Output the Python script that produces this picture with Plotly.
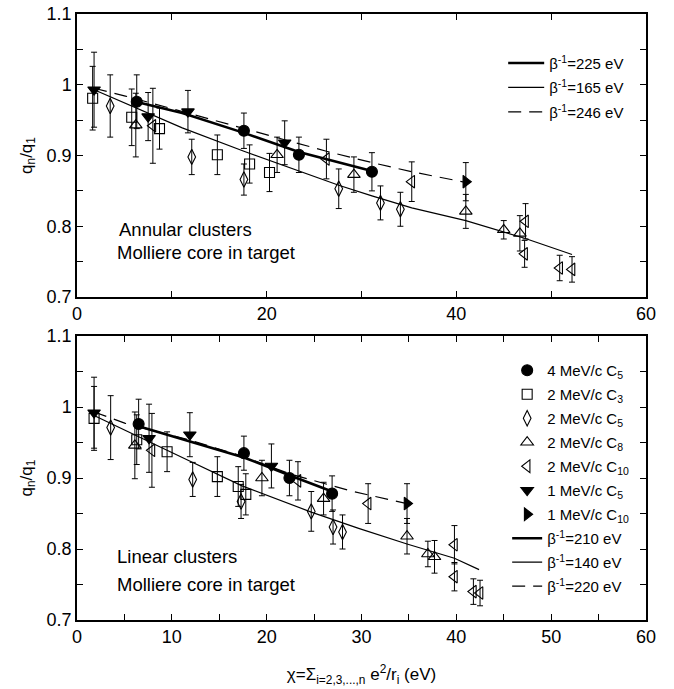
import plotly.graph_objects as go

# ---------------- data: top panel (annular clusters) ----------------
t_c5_4_x = [6.3, 17.6, 23.4, 31.1]
t_c5_4_y = [0.976, 0.935, 0.901, 0.877]
t_c5_4_e = [0.038, 0.025, 0.025, 0.027]

t_c3_2_x = [1.65, 5.77, 8.7, 14.8, 18.2, 20.3]
t_c3_2_y = [0.981, 0.954, 0.938, 0.901, 0.888, 0.876]
t_c3_2_e = [0.045, 0.040, 0.029, 0.028, 0.027, 0.027]

t_c5_2_x = [3.5, 12.1, 17.6, 27.6, 32.0, 34.1]
t_c5_2_y = [0.970, 0.898, 0.866, 0.853, 0.833, 0.824]
t_c5_2_e = [0.044, 0.025, 0.022, 0.028, 0.024, 0.024]

t_c8_2_x = [6.2, 21.1, 29.2, 41.0, 45.0, 46.7]
t_c8_2_y = [0.943, 0.901, 0.873, 0.821, 0.795, 0.790]
t_c8_2_e = [0.045, 0.025, 0.025, 0.024, 0.013, 0.025]

t_c10_2_x = [8.0, 26.3, 35.3, 47.3, 47.2, 50.9, 52.2]
t_c10_2_y = [0.942, 0.895, 0.863, 0.807, 0.761, 0.741, 0.739]
t_c10_2_e = [0.053, 0.028, 0.028, 0.025, 0.019, 0.018, 0.018]

t_c5_1_x = [1.8, 7.5, 11.7, 21.9]
t_c5_1_y = [0.993, 0.955, 0.962, 0.918]
t_c5_1_e = [0.053, 0.034, 0.030, 0.031]

t_c10_1_x = [41.0]
t_c10_1_y = [0.863]
t_c10_1_e = [0.027]

t_fit225_x = [6.2, 11.1, 17.6, 23.4, 31.1]
t_fit225_y = [0.976, 0.960, 0.932, 0.905, 0.878]
t_fit165_x = [1.8, 6.3, 11.1, 17.6, 21.1, 27.6, 31.1, 35.3, 41.0, 45.0, 47.2, 52.2]
t_fit165_y = [0.993, 0.967, 0.939, 0.906, 0.889, 0.858, 0.843, 0.826, 0.808, 0.792, 0.783, 0.760]
t_fit246_x = [1.8, 5.1, 11.7, 17.6, 21.9, 26.3, 31.1, 35.3, 41.0]
t_fit246_y = [0.995, 0.984, 0.960, 0.938, 0.922, 0.906, 0.890, 0.877, 0.862]

# ---------------- data: bottom panel (linear clusters) ----------------
b_c5_4_x = [6.5, 17.6, 22.4, 26.9]
b_c5_4_y = [0.976, 0.935, 0.900, 0.878]
b_c5_4_e = [0.035, 0.024, 0.025, 0.025]

b_c3_2_x = [1.8, 6.3, 9.5, 14.8, 17.0, 17.8]
b_c3_2_y = [0.984, 0.954, 0.937, 0.902, 0.888, 0.877]
b_c3_2_e = [0.045, 0.035, 0.028, 0.028, 0.028, 0.029]

b_c5_2_x = [3.55, 12.2, 17.3, 24.7, 27.0, 28.0]
b_c5_2_y = [0.971, 0.898, 0.867, 0.853, 0.831, 0.824]
b_c5_2_e = [0.045, 0.024, 0.024, 0.028, 0.024, 0.024]

b_c8_2_x = [6.1, 19.5, 26.0, 34.8, 37.0, 37.7]
b_c8_2_y = [0.946, 0.900, 0.871, 0.818, 0.793, 0.789]
b_c8_2_e = [0.047, 0.025, 0.023, 0.025, 0.018, 0.023]

b_c10_2_x = [7.9, 23.3, 30.7, 39.8, 39.8, 41.8, 42.5]
b_c10_2_y = [0.939, 0.896, 0.864, 0.806, 0.761, 0.740, 0.738]
b_c10_2_e = [0.052, 0.027, 0.028, 0.027, 0.020, 0.018, 0.018]

b_c5_1_x = [1.8, 7.6, 11.9, 20.5]
b_c5_1_y = [0.992, 0.956, 0.961, 0.917]
b_c5_1_e = [0.050, 0.048, 0.031, 0.031]

b_c10_1_x = [34.8]
b_c10_1_y = [0.864]
b_c10_1_e = [0.028]

b_fit210_x = [6.5, 12.0, 17.6, 22.4, 26.9]
b_fit210_y = [0.973, 0.951, 0.929, 0.904, 0.881]
b_fit140_x = [1.8, 6.3, 11.1, 17.4, 20.4, 24.7, 29.7, 34.8, 39.8, 42.4]
b_fit140_y = [0.988, 0.960, 0.929, 0.889, 0.874, 0.852, 0.829, 0.807, 0.787, 0.771]
b_fit220_x = [1.8, 5.1, 12.0, 17.6, 22.4, 26.9, 29.1, 34.8]
b_fit220_y = [0.993, 0.977, 0.953, 0.930, 0.906, 0.889, 0.881, 0.864]

series_names = ["4 MeV/c C<sub>5</sub>", "2 MeV/c C<sub>3</sub>", "2 MeV/c C<sub>5</sub>",
                "2 MeV/c C<sub>8</sub>", "2 MeV/c C<sub>10</sub>", "1 MeV/c C<sub>5</sub>",
                "1 MeV/c C<sub>10</sub>"]
top_fit_names = ["β<sup>-1</sup>=225 eV", "β<sup>-1</sup>=165 eV", "β<sup>-1</sup>=246 eV"]
bot_fit_names = ["β<sup>-1</sup>=210 eV", "β<sup>-1</sup>=140 eV", "β<sup>-1</sup>=220 eV"]

x_tickvals_top = [0, 10, 20, 30, 40, 50, 60]
x_ticktext_top = ["0", "", "20", "", "40", "", "60"]
x_tickvals_bot = [0, 5, 10, 15, 20, 25, 30, 35, 40, 45, 50, 55, 60]
x_ticktext_bot = ["0", "", "10", "", "20", "", "30", "", "40", "", "50", "", "60"]
y_tickvals = [0.7, 0.75, 0.8, 0.85, 0.9, 0.95, 1.0, 1.05, 1.1]
y_ticktext = ["0.7", "", "0.8", "", "0.9", "", "1", "", "1.1"]

# ---------------- styling ----------------
FONT = "Liberation Sans, Arial, Helvetica, sans-serif"
symbols = ["circle", "square-open", "diamond-tall-open", "triangle-up-open",
           "triangle-left-open", "triangle-down", "triangle-right"]
sizes = [11, 10, 11, 11, 11, 11, 11]

fig = go.Figure()

top_sets = [(t_c5_4_x, t_c5_4_y, t_c5_4_e), (t_c3_2_x, t_c3_2_y, t_c3_2_e),
            (t_c5_2_x, t_c5_2_y, t_c5_2_e), (t_c8_2_x, t_c8_2_y, t_c8_2_e),
            (t_c10_2_x, t_c10_2_y, t_c10_2_e), (t_c5_1_x, t_c5_1_y, t_c5_1_e),
            (t_c10_1_x, t_c10_1_y, t_c10_1_e)]
bot_sets = [(b_c5_4_x, b_c5_4_y, b_c5_4_e), (b_c3_2_x, b_c3_2_y, b_c3_2_e),
            (b_c5_2_x, b_c5_2_y, b_c5_2_e), (b_c8_2_x, b_c8_2_y, b_c8_2_e),
            (b_c10_2_x, b_c10_2_y, b_c10_2_e), (b_c5_1_x, b_c5_1_y, b_c5_1_e),
            (b_c10_1_x, b_c10_1_y, b_c10_1_e)]

line_styles = [dict(color="black", width=2.6), dict(color="black", width=1.2),
               dict(color="black", width=1.2, dash="13px,8px")]

# fit lines top
for k, ((xs, ys), nm, ls) in enumerate(zip([(t_fit225_x, t_fit225_y), (t_fit165_x, t_fit165_y),
                                            (t_fit246_x, t_fit246_y)], top_fit_names, line_styles)):
    fig.add_trace(go.Scatter(x=xs, y=ys, mode="lines", line=ls, name=nm,
                             xaxis="x", yaxis="y", legend="legend",
                             legendgroup="tf%d" % k))
# fit lines bottom
for k, ((xs, ys), nm, ls) in enumerate(zip([(b_fit210_x, b_fit210_y), (b_fit140_x, b_fit140_y),
                                            (b_fit220_x, b_fit220_y)], bot_fit_names, line_styles)):
    fig.add_trace(go.Scatter(x=xs, y=ys, mode="lines", line=ls, name=nm,
                             xaxis="x2", yaxis="y2", legend="legend2",
                             legendgroup="bf%d" % k, legendrank=1100 + k))

def marker_trace(xs, ys, es, i, xa, ya, show, grp):
    return go.Scatter(
        x=xs, y=ys, mode="markers", name=series_names[i],
        marker=dict(symbol=symbols[i], size=sizes[i], color="black",
                    line=dict(color="black", width=1.1)),
        error_y=dict(type="data", array=es, visible=True, color="black",
                     thickness=1, width=3),
        xaxis=xa, yaxis=ya, showlegend=show, legend="legend2",
        legendgroup=grp, legendrank=1000 + i)

for i, (xs, ys, es) in enumerate(top_sets):
    fig.add_trace(marker_trace(xs, ys, es, i, "x", "y", False, "tm%d" % i))
for i, (xs, ys, es) in enumerate(bot_sets):
    fig.add_trace(marker_trace(xs, ys, es, i, "x2", "y2", True, "bm%d" % i))

axis_common = dict(showline=True, linecolor="black", linewidth=1.5, mirror="ticks",
                   ticks="inside", ticklen=6, tickwidth=1, tickcolor="black",
                   showgrid=False, zeroline=False, automargin=False,
                   tickfont=dict(family=FONT, size=18, color="black"))

def note(text, x, y):
    return dict(text=text, x=x, y=y, xref="paper", yref="paper",
                xanchor="left", yanchor="middle", showarrow=False,
                font=dict(family=FONT, size=18.5))

fig.update_layout(
    width=674, height=689,
    margin=dict(l=77, r=28, t=14, b=69, autoexpand=False),
    paper_bgcolor="white", plot_bgcolor="white",
    font=dict(family=FONT, color="black"),
    xaxis=dict(domain=[0, 1], anchor="y", range=[0, 60], tickvals=x_tickvals_top,
               ticktext=x_ticktext_top, **axis_common),
    yaxis=dict(domain=[0.533, 1], anchor="x", range=[0.7, 1.1], tickvals=y_tickvals,
               ticktext=y_ticktext,
               title=dict(text="q<sub>n</sub>/q<sub>1</sub>", font=dict(family=FONT, size=17),
                          standoff=10),
               **axis_common),
    xaxis2=dict(domain=[0, 1], anchor="y2", range=[0, 60], tickvals=x_tickvals_bot,
                ticktext=x_ticktext_bot,
                title=dict(text="χ=Σ<sub>i=2,3,...,n</sub> e<sup>2</sup>/r<sub>i</sub> (eV)",
                           font=dict(family=FONT, size=17), standoff=22),
                **axis_common),
    yaxis2=dict(domain=[0, 0.4686], anchor="x2", range=[0.7, 1.1], tickvals=y_tickvals,
                ticktext=y_ticktext,
                title=dict(text="q<sub>n</sub>/q<sub>1</sub>", font=dict(family=FONT, size=17),
                           standoff=10),
                **axis_common),
    legend=dict(x=0.749, y=0.946, xanchor="left", yanchor="top",
                bgcolor="rgba(0,0,0,0)", font=dict(family=FONT, size=15),
                itemwidth=36, tracegroupgap=2, traceorder="grouped"),
    legend2=dict(x=0.756, y=0.439, xanchor="left", yanchor="top",
                 bgcolor="rgba(0,0,0,0)", font=dict(family=FONT, size=15),
                 itemwidth=30, tracegroupgap=1.5, traceorder="grouped"),
    annotations=[
        note("Annular clusters", 0.071, 0.645),
        note("Molliere core in target", 0.066, 0.607),
        note("Linear clusters", 0.066, 0.1047),
        note("Molliere core in target", 0.066, 0.0578),
    ],
)

fig.write_html("out.html")
